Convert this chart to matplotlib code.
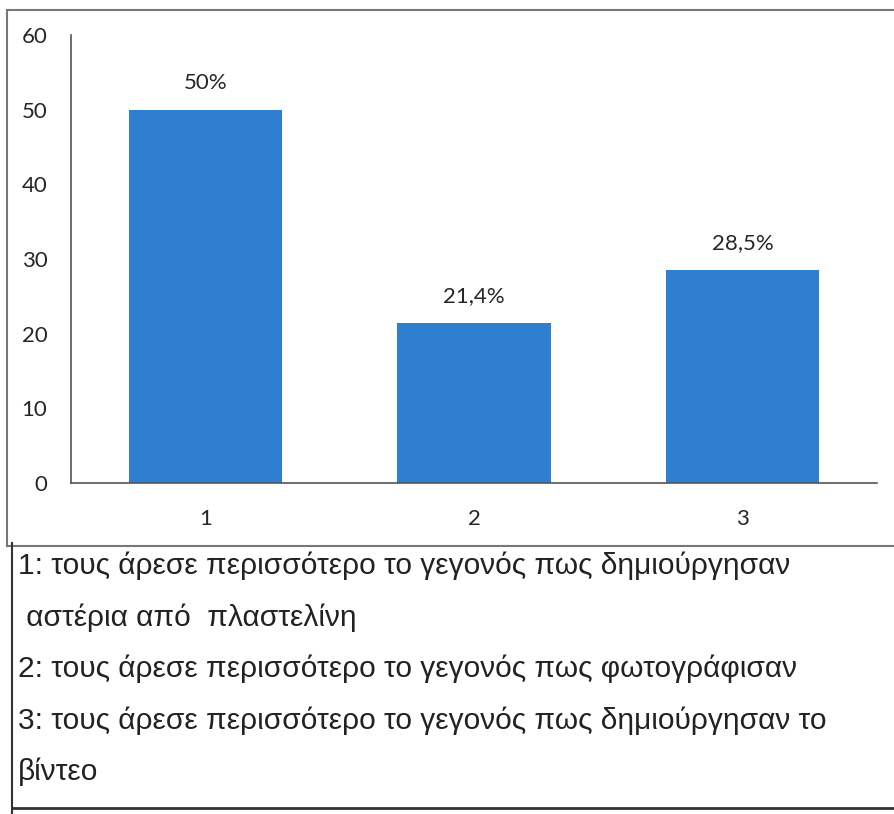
import matplotlib.pyplot as plt
from matplotlib.lines import Line2D

# data
categories = ['1', '2', '3']
values = [50, 21.4, 28.5]
bar_labels = ['50%', '21,4%', '28,5%']
legend_lines = [
    '1: τους άρεσε περισσότερο το γεγονός πως δημιούργησαν',
    ' αστέρια από  πλαστελίνη',
    '2: τους άρεσε περισσότερο το γεγονός πως φωτογράφισαν',
    '3: τους άρεσε περισσότερο το γεγονός πως δημιούργησαν το',
    'βίντεο',
]

W, H = 894, 814
fig = plt.figure(figsize=(W / 100, H / 100), dpi=100)


def fx(px):
    return px / W


def fy(py):
    return 1 - py / H


# chart area
ax = fig.add_axes([fx(71), fy(483), fx(877) - fx(71), fy(35) - fy(483)])
x = range(len(categories))
bars = ax.bar(x, values, width=0.57, color='#2e7fcf', zorder=2)
ax.set_xlim(-0.5, 2.5)
ax.set_ylim(0, 60)
ax.set_yticks(range(0, 61, 10))
ax.set_xticks(list(x))
ax.set_xticklabels(categories)
for s in ['top', 'right']:
    ax.spines[s].set_visible(False)
for s in ['left', 'bottom']:
    ax.spines[s].set_color('#555555')
    ax.spines[s].set_linewidth(1.2)
ax.tick_params(length=0, labelsize=16, colors='#262626')
ax.tick_params(axis='x', pad=19)
ax.tick_params(axis='y', pad=17)
for lbl in ax.get_xticklabels() + ax.get_yticklabels():
    lbl.set_family('Lato')
for b, t in zip(bars, bar_labels):
    ax.annotate(t, (b.get_x() + b.get_width() / 2, b.get_height()),
                xytext=(0, 12), textcoords='offset points', ha='center', va='bottom',
                fontsize=16, family='Lato', color='#262626')

# borders of the chart box and the text box
lc = '#777777'
fig.add_artist(Line2D([fx(7), fx(894)], [fy(10), fy(10)], color=lc, lw=1.5))
fig.add_artist(Line2D([fx(7), fx(7)], [fy(10), fy(546)], color=lc, lw=1.5))
fig.add_artist(Line2D([fx(7), fx(894)], [fy(546), fy(546)], color=lc, lw=1.5))
fig.add_artist(Line2D([fx(12), fx(12)], [fy(543), fy(814)], color='#333333', lw=1.5))
fig.add_artist(Line2D([fx(12), fx(894)], [fy(808), fy(808)], color='#333333', lw=2))

# legend text
ys = [566, 618, 669, 721, 772]
for t, yy in zip(legend_lines, ys):
    fig.text(fx(18), fy(yy), t, fontsize=21.5, family='Liberation Sans',
             color='#222222', va='center', ha='left')

fig.savefig('out.png', dpi=100, facecolor='white')
